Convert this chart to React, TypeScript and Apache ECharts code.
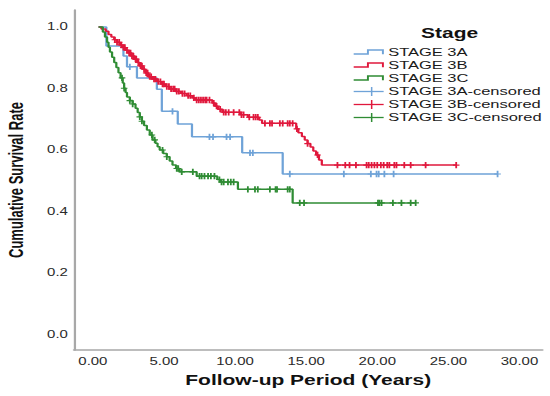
import React, { useEffect, useRef } from 'react';
import * as echarts from 'echarts';

// ---------- data ----------
const xTickValues = [0, 5, 10, 15, 20, 25, 30];
const yTickValues = [0, 0.2, 0.4, 0.6, 0.8, 1.0];

const stageNames = ['STAGE 3A', 'STAGE 3B', 'STAGE 3C'];
const censoredNames = ['STAGE 3A-censored', 'STAGE 3B-censored', 'STAGE 3C-censored'];
const stageColors = ['#6fa3d8', '#e0183c', '#2f8c34'];

// Kaplan-Meier events: [time (years), survival after event]
const stage3A: [number, number][] = [
  [0.4, 1.0], [0.95, 0.938], [2.15, 0.905], [2.4, 0.87], [3.1, 0.834], [4.5, 0.797],
  [4.85, 0.725], [5.97, 0.684], [6.97, 0.642], [10.5, 0.59], [13.35, 0.521],
];
const stage3AEnd = 28.46;
const stage3ACensored = [2.6, 5.6, 8.2, 8.45, 9.4, 9.65, 11.05, 11.25, 13.85, 17.65, 19.55, 19.95, 20.1, 20.5, 21.15, 28.46];

const stage3B: [number, number][] = [
  [0.4, 1.0], [0.6, 0.993], [0.9, 0.986], [1.1, 0.975], [1.3, 0.967], [1.5, 0.958], [1.7, 0.95],
  [1.9, 0.941], [2.1, 0.933], [2.3, 0.924], [2.5, 0.915], [2.7, 0.905], [2.9, 0.895], [3.1, 0.884],
  [3.3, 0.873], [3.5, 0.862], [3.7, 0.85], [3.9, 0.838], [4.2, 0.83], [4.5, 0.822], [4.8, 0.814],
  [5.1, 0.806], [5.4, 0.798], [5.8, 0.79], [6.2, 0.783], [6.6, 0.776], [7.0, 0.769], [7.2, 0.762],
  [8.4, 0.752], [8.6, 0.742], [8.8, 0.732], [9.1, 0.722], [10.4, 0.714], [10.9, 0.706], [11.7, 0.697],
  [11.9, 0.686], [14.3, 0.668], [14.45, 0.655], [14.7, 0.643], [14.9, 0.632], [15.1, 0.62], [15.3, 0.609],
  [15.5, 0.596], [15.7, 0.583], [15.9, 0.567], [16.1, 0.55],
];
const stage3BEnd = 25.55;
const stage3BCensored = [
  1.55, 1.7, 1.85, 2.0, 2.15, 2.25, 2.4, 2.55, 2.65, 2.75, 2.85, 3.0, 3.05, 3.2, 3.35, 3.45, 3.6, 3.75,
  3.85, 4.0, 4.1, 4.3, 4.4, 4.6, 4.75, 4.9, 5.0, 5.2, 5.35, 5.5, 5.65, 5.75, 5.9, 6.05, 6.3, 6.45, 6.7,
  6.85, 7.1, 7.3, 7.45, 7.6, 7.75, 7.9, 8.0, 8.2, 8.5, 8.7, 8.95, 9.2, 9.35, 9.55, 9.9, 10.3, 10.45,
  10.6, 11.0, 11.3, 11.45, 11.6, 12.1, 12.45, 12.6, 13.15, 13.35, 13.7, 13.85, 14.05, 14.35, 15.1, 15.8,
  17.2, 17.75, 18.05, 18.5, 19.25, 19.4, 19.6, 19.8, 20.0, 20.25, 20.45, 20.7, 20.85, 21.2, 21.35,
  21.9, 22.35, 23.4, 25.55,
];

const stage3C: [number, number][] = [
  [0.4, 1.0], [0.7, 0.983], [0.85, 0.967], [1.0, 0.95], [1.1, 0.934], [1.2, 0.918], [1.35, 0.901],
  [1.5, 0.884], [1.65, 0.868], [1.8, 0.851], [1.95, 0.834], [2.1, 0.817], [2.2, 0.8], [2.3, 0.786],
  [2.4, 0.772], [2.6, 0.76], [2.8, 0.749], [3.0, 0.735], [3.15, 0.721], [3.3, 0.707], [3.45, 0.693],
  [3.6, 0.679], [3.8, 0.664], [4.0, 0.648], [4.2, 0.632], [4.4, 0.621], [4.55, 0.61], [4.7, 0.599],
  [4.95, 0.588], [5.2, 0.577], [5.4, 0.563], [5.6, 0.55], [5.85, 0.539], [6.1, 0.528], [7.3, 0.514],
  [8.75, 0.503], [8.95, 0.495], [10.2, 0.471], [14.05, 0.427],
];
const stage3CEnd = 22.7;
const stage3CCensored = [
  2.05, 2.2, 2.6, 2.8, 3.3, 3.45, 4.15, 4.35, 4.9, 5.2, 5.9, 6.0, 6.25, 7.03, 7.5, 7.65, 7.85, 8.1, 8.3,
  8.55, 8.9, 9.05, 9.2, 9.5, 9.7, 9.9, 10.9, 11.4, 11.6, 12.45, 12.85, 12.95, 13.7, 13.85, 14.55, 14.85,
  20.05, 20.15, 20.3, 21.1, 21.7, 22.35, 22.7,
];

// ---------- helpers ----------
function stepPoints(events: [number, number][], end: number): [number, number][] {
  const pts: [number, number][] = [events[0]];
  for (let i = 1; i < events.length; i++) {
    pts.push([events[i][0], events[i - 1][1]]);
    pts.push(events[i]);
  }
  pts.push([end, events[events.length - 1][1]]);
  return pts;
}
function levelAt(events: [number, number][], t: number): number {
  let s = events[0][1];
  for (const [et, es] of events) if (et <= t) s = es;
  return s;
}
function censorPoints(events: [number, number][], times: number[]): [number, number][] {
  return times.map((t) => [t, levelAt(events, t)]);
}

const CHART_W = 367;
const CHART_H = 396;
const STRETCH = 550 / CHART_W;
const FONT = '"Liberation Sans", Arial, Helvetica, sans-serif';
const PLUS = 'path://M0,2.6h4.4v1.1h-4.4z M1.6,0h1.2v6.3h-1.2z';

export default function App() {
  const ref = useRef<HTMLDivElement>(null);

  useEffect(() => {
    if (!ref.current) return;
    const chart = echarts.init(ref.current, null, { renderer: 'svg' });

    const curves = [
      { ev: stage3A, end: stage3AEnd, cens: stage3ACensored },
      { ev: stage3B, end: stage3BEnd, cens: stage3BCensored },
      { ev: stage3C, end: stage3CEnd, cens: stage3CCensored },
    ];

    const lineSeries = curves.map((c, i) => ({
      name: stageNames[i],
      type: 'line',
      data: stepPoints(c.ev, c.end),
      showSymbol: false,
      lineStyle: { color: stageColors[i], width: 1.5 },
      itemStyle: { color: stageColors[i] },
      silent: true,
      z: 2,
    }));
    const censorSeries = curves.map((c, i) => ({
      name: censoredNames[i],
      type: 'scatter',
      data: censorPoints(c.ev, c.cens),
      symbol: PLUS,
      symbolSize: [4.4, 6.3],
      itemStyle: { color: stageColors[i], opacity: 1 },
      silent: true,
      z: 3,
    }));

    // legend (drawn manually)
    const legendX0 = 236;
    const legendX1 = 256;
    const textX = 259;
    const rowY = [52.5, 65.5, 78.5, 91.5, 104.5, 117.5];
    const graphics: any[] = [
      {
        type: 'text',
        x: 300,
        y: 33,
        style: {
          text: 'Stage',
          font: `bold 14px ${FONT}`,
          fill: '#111',
          textAlign: 'center',
          textVerticalAlign: 'middle',
        },
      },
    ];
    stageNames.forEach((name, i) => {
      const y = rowY[i];
      graphics.push({
        type: 'polyline',
        shape: {
          points: [
            [legendX0, y + 1.5],
            [245.5, y + 1.5],
            [245.5, y - 2.5],
            [255.5, y - 2.5],
            [255.5, y + 1.8],
          ],
        },
        style: { stroke: stageColors[i], lineWidth: 1.3, fill: null },
      });
      graphics.push({
        type: 'text',
        x: textX,
        y,
        style: { text: name, font: `11px ${FONT}`, fill: '#1a1a1a', textVerticalAlign: 'middle' },
      });
    });
    censoredNames.forEach((name, i) => {
      const y = rowY[i + 3];
      graphics.push({
        type: 'line',
        shape: { x1: legendX0, y1: y, x2: legendX1, y2: y },
        style: { stroke: stageColors[i], lineWidth: 1.3 },
      });
      graphics.push({
        type: 'line',
        shape: { x1: 248, y1: y - 4.5, x2: 248, y2: y + 4.5 },
        style: { stroke: stageColors[i], lineWidth: 1 },
      });
      graphics.push({
        type: 'text',
        x: textX,
        y,
        style: { text: name, font: `11px ${FONT}`, fill: '#1a1a1a', textVerticalAlign: 'middle' },
      });
    });

    const axisLine = { show: true, onZero: false, lineStyle: { color: '#a8a8a8', width: 1.5 } };

    chart.setOption({
      animation: false,
      grid: {
        left: 49.3,
        right: 5,
        top: 10,
        bottom: 46,
        containLabel: false,
        outerBoundsMode: 'none',
      },
      xAxis: {
        type: 'value',
        min: -1.335,
        max: 31.62,
        name: 'Follow-up Period (Years)',
        nameLocation: 'middle',
        nameGap: 23,
        nameTextStyle: { fontFamily: FONT, fontWeight: 'bold', fontSize: 14, color: '#111' },
        axisLine,
        axisTick: { show: false },
        splitLine: { show: false },
        axisLabel: {
          customValues: xTickValues,
          formatter: (v: number) => v.toFixed(2),
          fontFamily: FONT,
          fontSize: 10,
          color: '#2a2a2a',
          margin: 6,
        },
      },
      yAxis: {
        type: 'value',
        min: -0.052,
        max: 1.055,
        name: 'Cumulative Survival Rate',
        nameLocation: 'middle',
        nameGap: 32,
        nameTextStyle: { fontFamily: FONT, fontWeight: 'bold', fontSize: 13, color: '#111' },
        axisLine,
        axisTick: { show: false },
        splitLine: { show: false },
        axisLabel: {
          customValues: yTickValues,
          formatter: (v: number) => v.toFixed(1),
          fontFamily: FONT,
          fontSize: 10,
          color: '#2a2a2a',
          margin: 4,
        },
      },
      graphic: graphics,
      series: [...lineSeries, ...censorSeries],
    });

    return () => chart.dispose();
  }, []);

  return (
    <div
      style={{
        position: 'absolute',
        left: 0,
        top: 0,
        width: 550,
        height: CHART_H,
        overflow: 'hidden',
        background: '#fff',
      }}
    >
      <div
        ref={ref}
        style={{
          width: CHART_W,
          height: CHART_H,
          transform: `scaleX(${STRETCH})`,
          transformOrigin: '0 0',
        }}
      />
    </div>
  );
}
